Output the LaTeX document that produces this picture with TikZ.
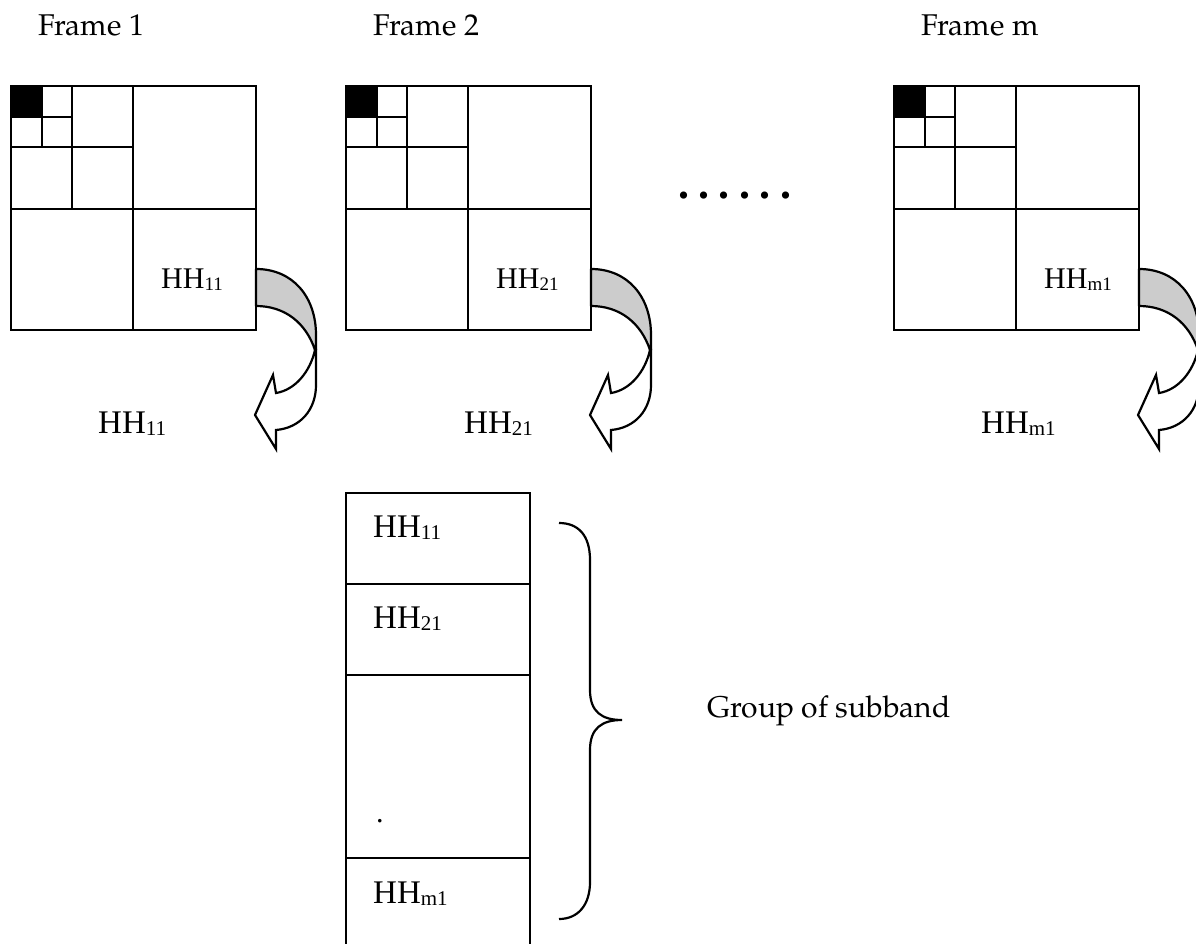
\documentclass[tikz,border=0pt]{standalone}
\usepackage{fontspec}
\setmainfont{Liberation Serif}
\newfontfamily\palfont{texgyrepagella-regular.otf}
\newcommand\HHs[3]{{\fontsize{#1}{#1}\selectfont HH\raisebox{-2pt}{\fontsize{#2}{#2}\selectfont #3}}}
\begin{document}
\begin{tikzpicture}[x=1pt,y=-1pt,line width=2.4pt,
  framelbl/.style={anchor=base west,inner sep=0pt,font=\palfont\fontsize{30}{30}\selectfont},
  lbl/.style={anchor=base west,inner sep=0pt},
  boxcell/.style={draw,line width=2.4pt,anchor=north west,inner sep=0pt,outer sep=0pt},
  band/.style={fill=gray!40,draw=black,line width=2.2pt,line join=round},
  headshape/.style={fill=white,draw=black,line width=2.2pt,line join=miter},
  brace/.style={draw=black,line width=2.2pt}]
\useasboundingbox (0,0) rectangle (1196,944);
\fill[white] (0,0) rectangle (1196,944);

\foreach \X/\n/\b in {11/1/86,346/2/117,894/m/86}{
  \begin{scope}[shift={(\X,0)}]
    \node[framelbl] (title\n) at (26,36) {Frame \n};
    % decomposition frame
    \node[boxcell,minimum width=245,minimum height=244] (frame\n) at (0,86) {};
    \fill[black] (0,86) rectangle (31,117);
    \draw (122,86) -- (122,330);
    \draw (0,209) -- (245,209);
    \draw (61,86) -- (61,209);
    \draw (0,147) -- (122,147);
    \draw (31,86) -- (31,147);
    \draw (0,117) -- (61,117);
    \node[lbl] (in\n) at (149,288) {\HHs{30}{19}{\n1}};
    % twisted curved arrow
    \path[band] (245,269) .. controls (282,269) and (305,297) .. (305,335)
      -- (305,350) -- (304,350) .. controls (295,323) and (274,306) .. (245,306) -- cycle;
    \path[headshape] (304,350) -- (305,350) -- (305,385)
      .. controls (305,410) and (289,428) .. (265,430)
      -- (265,449) -- (244,415) -- (262,375) -- (265,393)
      .. controls (284,390) and (299,372) .. (304,350) -- cycle;
    \node[lbl] (out\n) at (\b,433) {\HHs{33}{21}{\n1}};
  \end{scope}
}

% dots between frames
\node[lbl] (dots) at (677,199) {\fontsize{44}{44}\selectfont\bfseries .\hspace{9.4pt}.\hspace{9.4pt}.\hspace{9.4pt}.\hspace{9.4pt}.\hspace{9.4pt}.};

% group of subbands
\node[boxcell,minimum width=184,minimum height=91] (s1) at (346,493) {};
\node[boxcell,minimum width=184,minimum height=91] (s2) at (346,584) {};
\node[boxcell,minimum width=184,minimum height=183] (s3) at (346,675) {};
\node[boxcell,minimum width=184,minimum height=110] (s4) at (346,858) {};
\node[lbl] (t1) at (372,537) {\HHs{33}{21}{11}};
\node[lbl] (t2) at (372,628) {\HHs{33}{21}{21}};
\node[lbl] (t3) at (375,822) {\fontsize{30}{30}\selectfont .};
\node[lbl] (t4) at (372,903) {\HHs{33}{21}{m1}};

\draw[brace] (559,523) .. controls (578,523) and (590,535) .. (590,560)
  -- (590,690) .. controls (590,712) and (602,720) .. (622,720)
  .. controls (602,720) and (590,728) .. (590,750)
  -- (590,882) .. controls (590,905) and (578,919) .. (559,919);
\node[framelbl] (grp) at (706,717) {Group of subband};
\end{tikzpicture}
\end{document}
